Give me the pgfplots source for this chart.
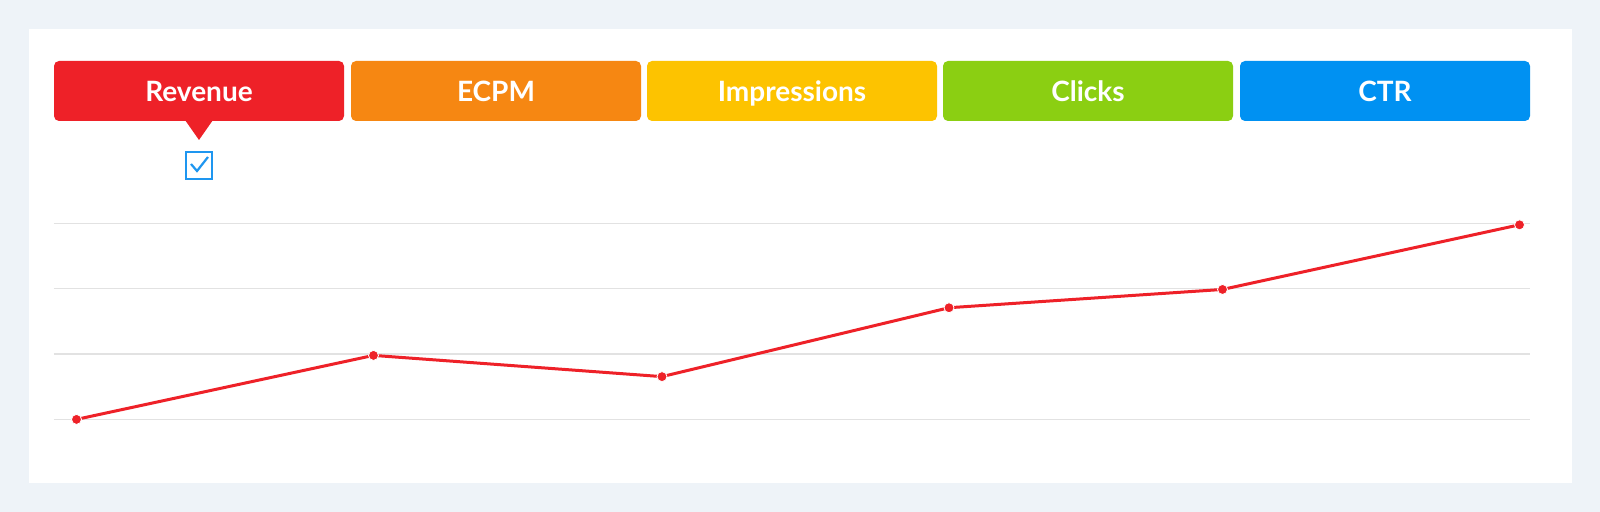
\documentclass[border=0pt]{standalone}
\usepackage{pgfplots}
\pgfplotsset{compat=1.18}
\usepackage{fontspec}
\setmainfont{Lato}
\definecolor{bgc}{HTML}{EEF3F8}
\definecolor{cRev}{HTML}{EE2128}
\definecolor{cEcpm}{HTML}{F68712}
\definecolor{cImp}{HTML}{FDC300}
\definecolor{cClk}{HTML}{8BCF12}
\definecolor{cCtr}{HTML}{0091F2}
\definecolor{cChk}{HTML}{1E96F0}
\definecolor{gridc}{HTML}{E2E2E2}
\begin{document}
\begin{tikzpicture}[x=0.5pt,y=0.5pt]
% background
\fill[bgc] (0,0) rectangle (1600,512);
\fill[white] (29,29) rectangle (1572,483);
% buttons (y pixel 61..121 -> 451..391)
\def\btn#1#2#3{\fill[#2,rounded corners=2.5pt] (#1,391) rectangle ({#1+290},451);
  \node[text=white,anchor=base,inner sep=0pt,font=\fontsize{14}{16}\selectfont\bfseries] at ({#1+145},410.5) {#3};}
\btn{54}{cRev}{Revenue}
\btn{351}{cEcpm}{ECPM}
\btn{647}{cImp}{Impressions}
\btn{943}{cClk}{Clicks}
\btn{1240}{cCtr}{CTR}
% pointer
\fill[cRev] (185,392) -- (213,392) -- (199,372) -- cycle;
% checkbox
\draw[cChk,line width=1.1pt] (186,360) rectangle (212,333);
\draw[cChk,line width=1.1pt] (191,348) -- (197,341) -- (208,355);
\begin{axis}[
  at={(27pt,36pt)}, anchor=south west,
  scale only axis, width=738pt, height=120pt,
  xmin=54, xmax=1530, ymin=-0.3155, ymax=3.36,
  axis line style={draw=none},
  ytick={0,1,2,3}, xtick=\empty,
  ymajorgrids, major grid style={gridc,line width=0.65pt},
  major tick length=0pt, yticklabels={},
  clip=false,
]
\addplot[cRev, line width=1.5pt, mark=*, mark size=2.5pt,
  mark options={fill=cRev, draw=white, line width=0.4pt}]
  coordinates {(76.5,0) (373.5,0.98) (662,0.655) (949,1.71) (1222.5,1.99) (1519.5,2.98)};
\end{axis}
\end{tikzpicture}
\end{document}
